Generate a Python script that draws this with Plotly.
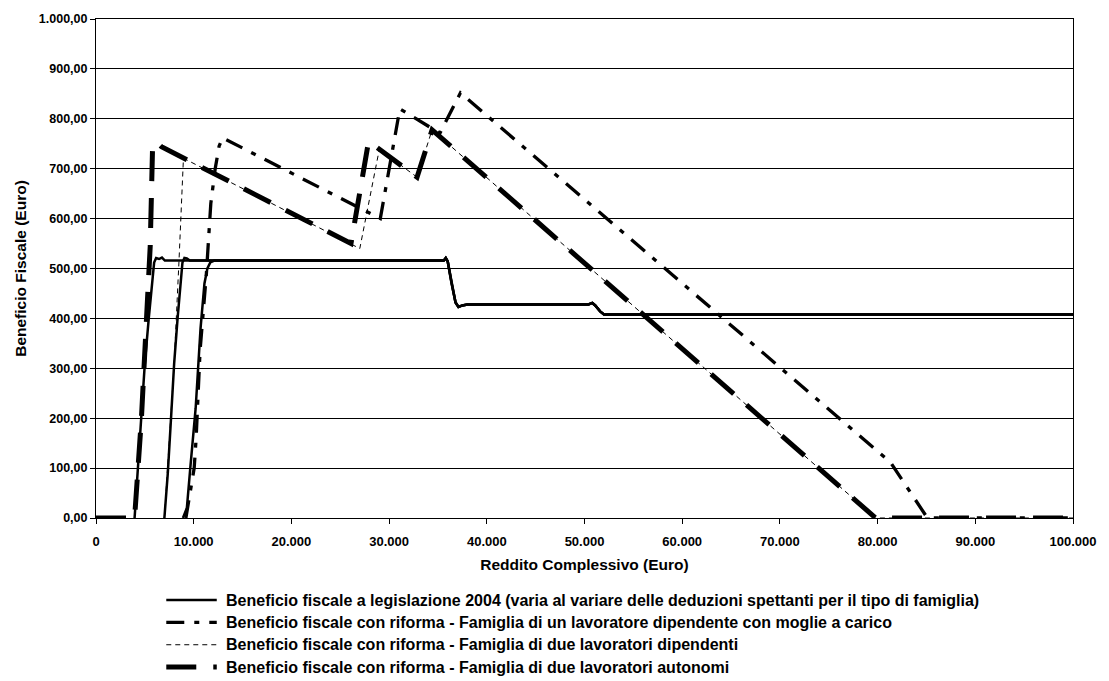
import plotly.graph_objects as go

# ---- data: income (Euro) and fiscal benefit (Euro) per family type ----
# Legislazione 2004: rising part differs by family type, then a shared profile
income_2004_autonomi = [3950, 4300, 4650, 5000, 5400, 5750, 5950, 6150, 6450, 6750, 7050]
benefit_2004_autonomi = [0, 100, 200, 310, 400, 480, 512, 521, 519, 522, 516]
income_2004_dipendenti = [7000, 7350, 7650, 8000, 8350, 8650, 8850, 9050, 9300, 9600]
benefit_2004_dipendenti = [0, 90, 190, 310, 400, 470, 512, 521, 520, 516]
income_2004_moglie = [8900, 9300, 9650, 10200, 10700, 11100, 11400, 11700, 12100, 12600]
benefit_2004_moglie = [0, 20, 100, 220, 380, 470, 500, 512, 516, 516]
income_2004_tail = [35600, 35800, 36000, 36400, 36800, 37100, 37500, 38000,
                    50400, 50800, 51100, 51600, 52000, 52400, 100000]
benefit_2004_tail = [516, 521, 514, 470, 432, 423, 426, 428,
                     428, 431, 426, 414, 408, 408, 408]

# Riforma - famiglia di un lavoratore dipendente con moglie a carico
income_moglie = [9200, 9550, 10050, 10250, 10650, 11300, 11750, 12200, 12600, 12950,
                 29100, 31100, 35200, 37300, 81300, 85100, 100000]
benefit_moglie = [0, 40, 100, 160, 335, 490, 630, 700, 745, 762,
                  600, 820, 771, 852, 112, 0, 0]

# Riforma - famiglia di due lavoratori dipendenti
income_dipendenti = [7000, 7650, 8000, 8500, 8950, 27000, 29000, 32860, 34400, 79800, 100000]
benefit_dipendenti = [0, 190, 310, 517, 721, 540, 739, 683, 778, 0, 0]

# Riforma - famiglia di due lavoratori autonomi
income_autonomi = [0, 3950, 4650, 5300, 5550, 5800, 6300, 6700, 26100, 27900,
                   32860, 34400, 79800, 100000]
benefit_autonomi = [0, 0, 200, 420, 545, 752, 751, 744, 550, 755,
                    683, 778, 0, 0]

x_ticks = [0, 10000, 20000, 30000, 40000, 50000, 60000, 70000, 80000, 90000, 100000]
y_ticks = [0, 100, 200, 300, 400, 500, 600, 700, 800, 900, 1000]

legend_labels = [
    "Beneficio fiscale a legislazione 2004 (varia al variare delle deduzioni spettanti per il tipo di famiglia)",
    "Beneficio fiscale con riforma - Famiglia di un lavoratore dipendente con moglie a carico",
    "Beneficio fiscale con riforma - Famiglia di due lavoratori dipendenti",
    "Beneficio fiscale con riforma - Famiglia di due lavoratori autonomi",
]

# ---- styles ----
FONT = "Liberation Sans, Arial, sans-serif"
style_2004 = dict(color="black", width=2.5, dash="solid")
style_moglie = dict(color="black", width=3.3, dash="18px,10px,5px,10px")
style_dipendenti = dict(color="black", width=1, dash="5px,4px")
style_autonomi = dict(color="black", width=5, dash="30px,17px")

W, H = 1109, 681
L, R, T, B = 96, 26, 16, 163
PW, PH = W - L - R, H - T - B


def paper_x(px):
    return (px - L) / PW


def paper_y(py):
    return (H - B - py) / PH


fig = go.Figure()

for xs, ys in [
    (income_2004_autonomi, benefit_2004_autonomi),
    (income_2004_dipendenti, benefit_2004_dipendenti),
    (income_2004_moglie, benefit_2004_moglie),
]:
    fig.add_trace(go.Scatter(x=xs + income_2004_tail, y=ys + benefit_2004_tail,
                             mode="lines", line=style_2004, showlegend=False,
                             name=legend_labels[0]))

fig.add_trace(go.Scatter(x=income_moglie, y=benefit_moglie, mode="lines",
                         line=style_moglie, showlegend=False, name=legend_labels[1]))
fig.add_trace(go.Scatter(x=income_dipendenti, y=benefit_dipendenti, mode="lines",
                         line=style_dipendenti, showlegend=False, name=legend_labels[2]))
fig.add_trace(go.Scatter(x=income_autonomi, y=benefit_autonomi, mode="lines",
                         line=style_autonomi, showlegend=False, name=legend_labels[3]))

# ---- legend drawn below the plot: sample line + label per row ----
row_y = [600.5, 623, 645.5, 668]
shapes = []
annotations = []
for label, style, ry in zip(legend_labels,
                            [style_2004, style_moglie, style_dipendenti, style_autonomi],
                            row_y):
    shapes.append(dict(type="line", xref="paper", yref="paper",
                       x0=paper_x(167), x1=paper_x(218), y0=paper_y(ry), y1=paper_y(ry),
                       line=style))
    annotations.append(dict(text=label, xref="paper", yref="paper",
                            x=paper_x(225), y=paper_y(ry), xanchor="left", yanchor="middle",
                            showarrow=False,
                            font=dict(family=FONT, size=16, color="black", weight="bold")))

fig.update_layout(
    width=W, height=H,
    margin=dict(l=L, r=R, t=T, b=B),
    paper_bgcolor="white", plot_bgcolor="white",
    separators=",.",
    font=dict(family=FONT, size=12.5, color="black", weight="bold"),
    shapes=shapes, annotations=annotations,
    showlegend=False,
)

fig.update_xaxes(
    range=[0, 100000], tickvals=x_ticks, tickformat=",d",
    ticks="outside", ticklen=5, tickcolor="black", tickwidth=1, ticklabelstandoff=6,
    tickfont=dict(family=FONT, size=13, weight="bold"),
    showline=True, linecolor="black", linewidth=1, mirror=True,
    showgrid=False, zeroline=False,
    title=dict(text="Reddito Complessivo (Euro)", standoff=11,
               font=dict(family=FONT, size=15.5, color="black", weight="bold")),
)
fig.update_yaxes(
    range=[0, 1000], tickvals=y_ticks, tickformat=",.2f",
    ticks="outside", ticklen=5, tickcolor="black", tickwidth=1,
    tickfont=dict(family=FONT, size=12.5, weight="bold"),
    showline=True, linecolor="black", linewidth=1, mirror=True,
    showgrid=True, gridcolor="black", gridwidth=1, zeroline=False,
    title=dict(text="Beneficio Fiscale (Euro)", standoff=8,
               font=dict(family=FONT, size=15.5, color="black", weight="bold")),
)

fig.write_html("out.html")
